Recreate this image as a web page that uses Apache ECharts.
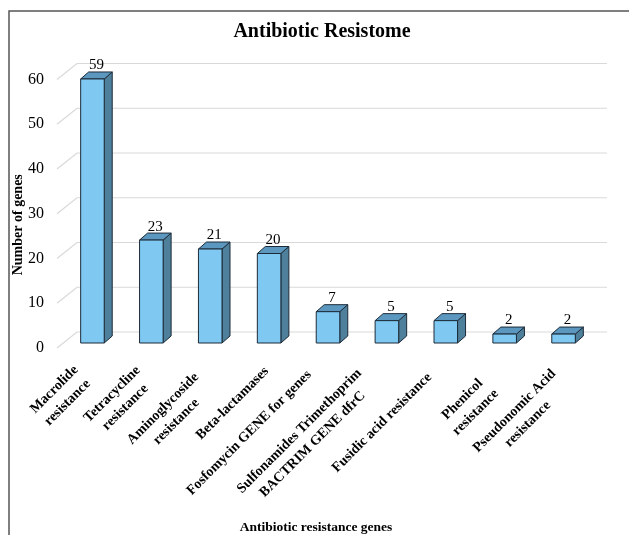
<!DOCTYPE html>
<html>
<head>
<meta charset="utf-8">
<script src="https://cdn.jsdelivr.net/npm/echarts@6/dist/echarts.min.js"></script>
<style>html,body{margin:0;padding:0;background:#fff}#c{width:629px;height:535px}</style>
</head>
<body>
<div id="c"></div>
<script>
var categories = [
  'Macrolide\nresistance',
  'Tetracycline\nresistance',
  'Aminoglycoside\nresistance',
  'Beta-lactamases',
  'Fosfomycin GENE for genes',
  'Sulfonamides Trimethoprim\nBACTRIM GENE dfrC',
  'Fusidic acid resistance',
  'Phenicol\nresistance',
  'Pseudonomic Acid\nresistance'
];
var geneCounts = [59, 23, 21, 20, 7, 5, 5, 2, 2];
var yTicks = [0, 10, 20, 30, 40, 50, 60];

// styling only: offsets of each rotated category label (px) along and across its text direction
var labelAlong = [13, 11, 16, 4, 18, 23, 18, 24, 11];
var labelAcross = [-1, 1.5, 6, 0.5, -8.5, -6.5, -5, 3, 6.5];

var FRONT = '#7ec8f2', SIDE = '#4e7f9b', TOP = '#5b97bf', EDGE = '#1d2b38';
var DX = 8, DY = 7;
var SERIF = '"Liberation Serif", "Times New Roman", serif';
var LP = 2.3; // half of extra line spacing for category labels

var richCat = {};
function catStyle(pad) {
  return {align: 'center', fontFamily: SERIF, fontSize: 14, fontWeight: 'bold', color: '#000', padding: pad};
}
labelAlong.forEach(function (a, i) {
  var p = labelAcross[i];
  var tExtra = Math.max(0, 2 * p), bExtra = Math.max(0, -2 * p);
  richCat['s' + i] = catStyle([LP + tExtra, a, LP + bExtra, 0]); // single line
  richCat['f' + i] = catStyle([LP + tExtra, a, LP, 0]);          // first of several
  richCat['m' + i] = catStyle([LP, a, LP, 0]);                    // middle
  richCat['e' + i] = catStyle([LP, a, LP + bExtra, 0]);          // last of several
});

var chart = echarts.init(document.getElementById('c'));
chart.setOption({
  backgroundColor: '#fff',
  animation: false,
  title: {
    text: 'Antibiotic Resistome',
    left: 322, top: 22, textAlign: 'center', padding: 0,
    textStyle: {fontFamily: SERIF, fontSize: 20, fontWeight: 'bold', color: '#000'}
  },
  graphic: [{
    type: 'rect', silent: true, z: -10,
    shape: {x: 9, y: 11, width: 700, height: 700},
    style: {fill: 'none', stroke: '#555', lineWidth: 1.5}
  }],
  grid: {left: 63, right: 36, top: 74.5, bottom: 192, containLabel: false, outerBoundsMode: 'none'},
  xAxis: {
    type: 'category',
    data: categories,
    name: 'Antibiotic resistance genes',
    nameLocation: 'middle',
    nameGap: 178,
    nameMoveOverlap: false,
    nameTextStyle: {fontFamily: SERIF, fontSize: 13.5, fontWeight: 'bold', color: '#000', padding: [0, 24, 0, 0]},
    axisLine: {show: false},
    axisTick: {show: false},
    axisLabel: {
      interval: 0, rotate: 45, margin: 23,
      fontFamily: SERIF, fontSize: 14, fontWeight: 'bold', color: '#000',
      formatter: function (v, idx) {
        var lines = v.split('\n');
        return lines.map(function (s, k) {
          var key = lines.length === 1 ? 's' : (k === 0 ? 'f' : (k === lines.length - 1 ? 'e' : 'm'));
          return '{' + key + idx + '|' + s + '}';
        }).join('\n');
      },
      rich: richCat
    }
  },
  yAxis: {
    type: 'value', min: 0, max: 60, interval: 10,
    name: 'Number of genes',
    nameLocation: 'middle',
    nameRotate: 90,
    nameGap: 38,
    nameMoveOverlap: false,
    nameTextStyle: {fontFamily: SERIF, fontSize: 14, fontWeight: 'bold', color: '#000', padding: [0, 32, 0, 0]},
    axisLine: {show: false},
    axisTick: {show: false},
    splitLine: {show: false},
    axisLabel: {
      margin: 19,
      fontFamily: SERIF, fontSize: 16, color: '#000',
      formatter: function (v) { return yTicks.indexOf(v) >= 0 ? '{t|' + v + '}' : ''; },
      rich: {t: {fontFamily: SERIF, fontSize: 16, color: '#000', padding: [10, 0, 0, 0]}}
    }
  },
  series: [{
    type: 'custom',
    name: 'gridlines',
    silent: true,
    z: 1,
    data: yTicks.map(function (t) { return [0, t]; }),
    renderItem: function (params, api) {
      var y = api.coord([0, api.value(1)])[1];
      var cs = params.coordSys;
      var x0 = cs.x, x1 = cs.x + cs.width;
      return {
        type: 'polyline',
        shape: {points: [[x0 - 6, y + 5], [x0 + 14, y - 11], [x1 + 14, y - 11]]},
        style: {stroke: '#d9d9d9', lineWidth: 1.2, fill: 'none'}
      };
    }
  }, {
    type: 'custom',
    name: 'Number of genes',
    z: 5,
    data: geneCounts.map(function (v, i) { return [i, v]; }),
    renderItem: function (params, api) {
      var i = api.value(0), v = api.value(1);
      var base = api.coord([i, 0]);
      var top = api.coord([i, v]);
      var w = api.size([1, 0])[0] * 0.4;
      var x0 = base[0] - w / 2, x1 = base[0] + w / 2;
      var yb = base[1], yt = top[1];
      var st = function (f) { return {fill: f, stroke: EDGE, lineWidth: 1, lineJoin: 'round'}; };
      return {
        type: 'group',
        children: [
          {type: 'polygon', shape: {points: [[x1, yb], [x1 + DX, yb - DY], [x1 + DX, yt - DY], [x1, yt]]}, style: st(SIDE)},
          {type: 'polygon', shape: {points: [[x0, yt], [x0 + DX, yt - DY], [x1 + DX, yt - DY], [x1, yt]]}, style: st(TOP)},
          {type: 'rect', shape: {x: x0, y: yt, width: w, height: yb - yt}, style: st(FRONT)},
          {type: 'text', style: {text: String(v), x: base[0] + DX / 2, y: yt - DY + 1, align: 'center', verticalAlign: 'bottom',
            font: '15px ' + SERIF, fill: '#000'}}
        ]
      };
    }
  }]
});
</script>
</body>
</html>
